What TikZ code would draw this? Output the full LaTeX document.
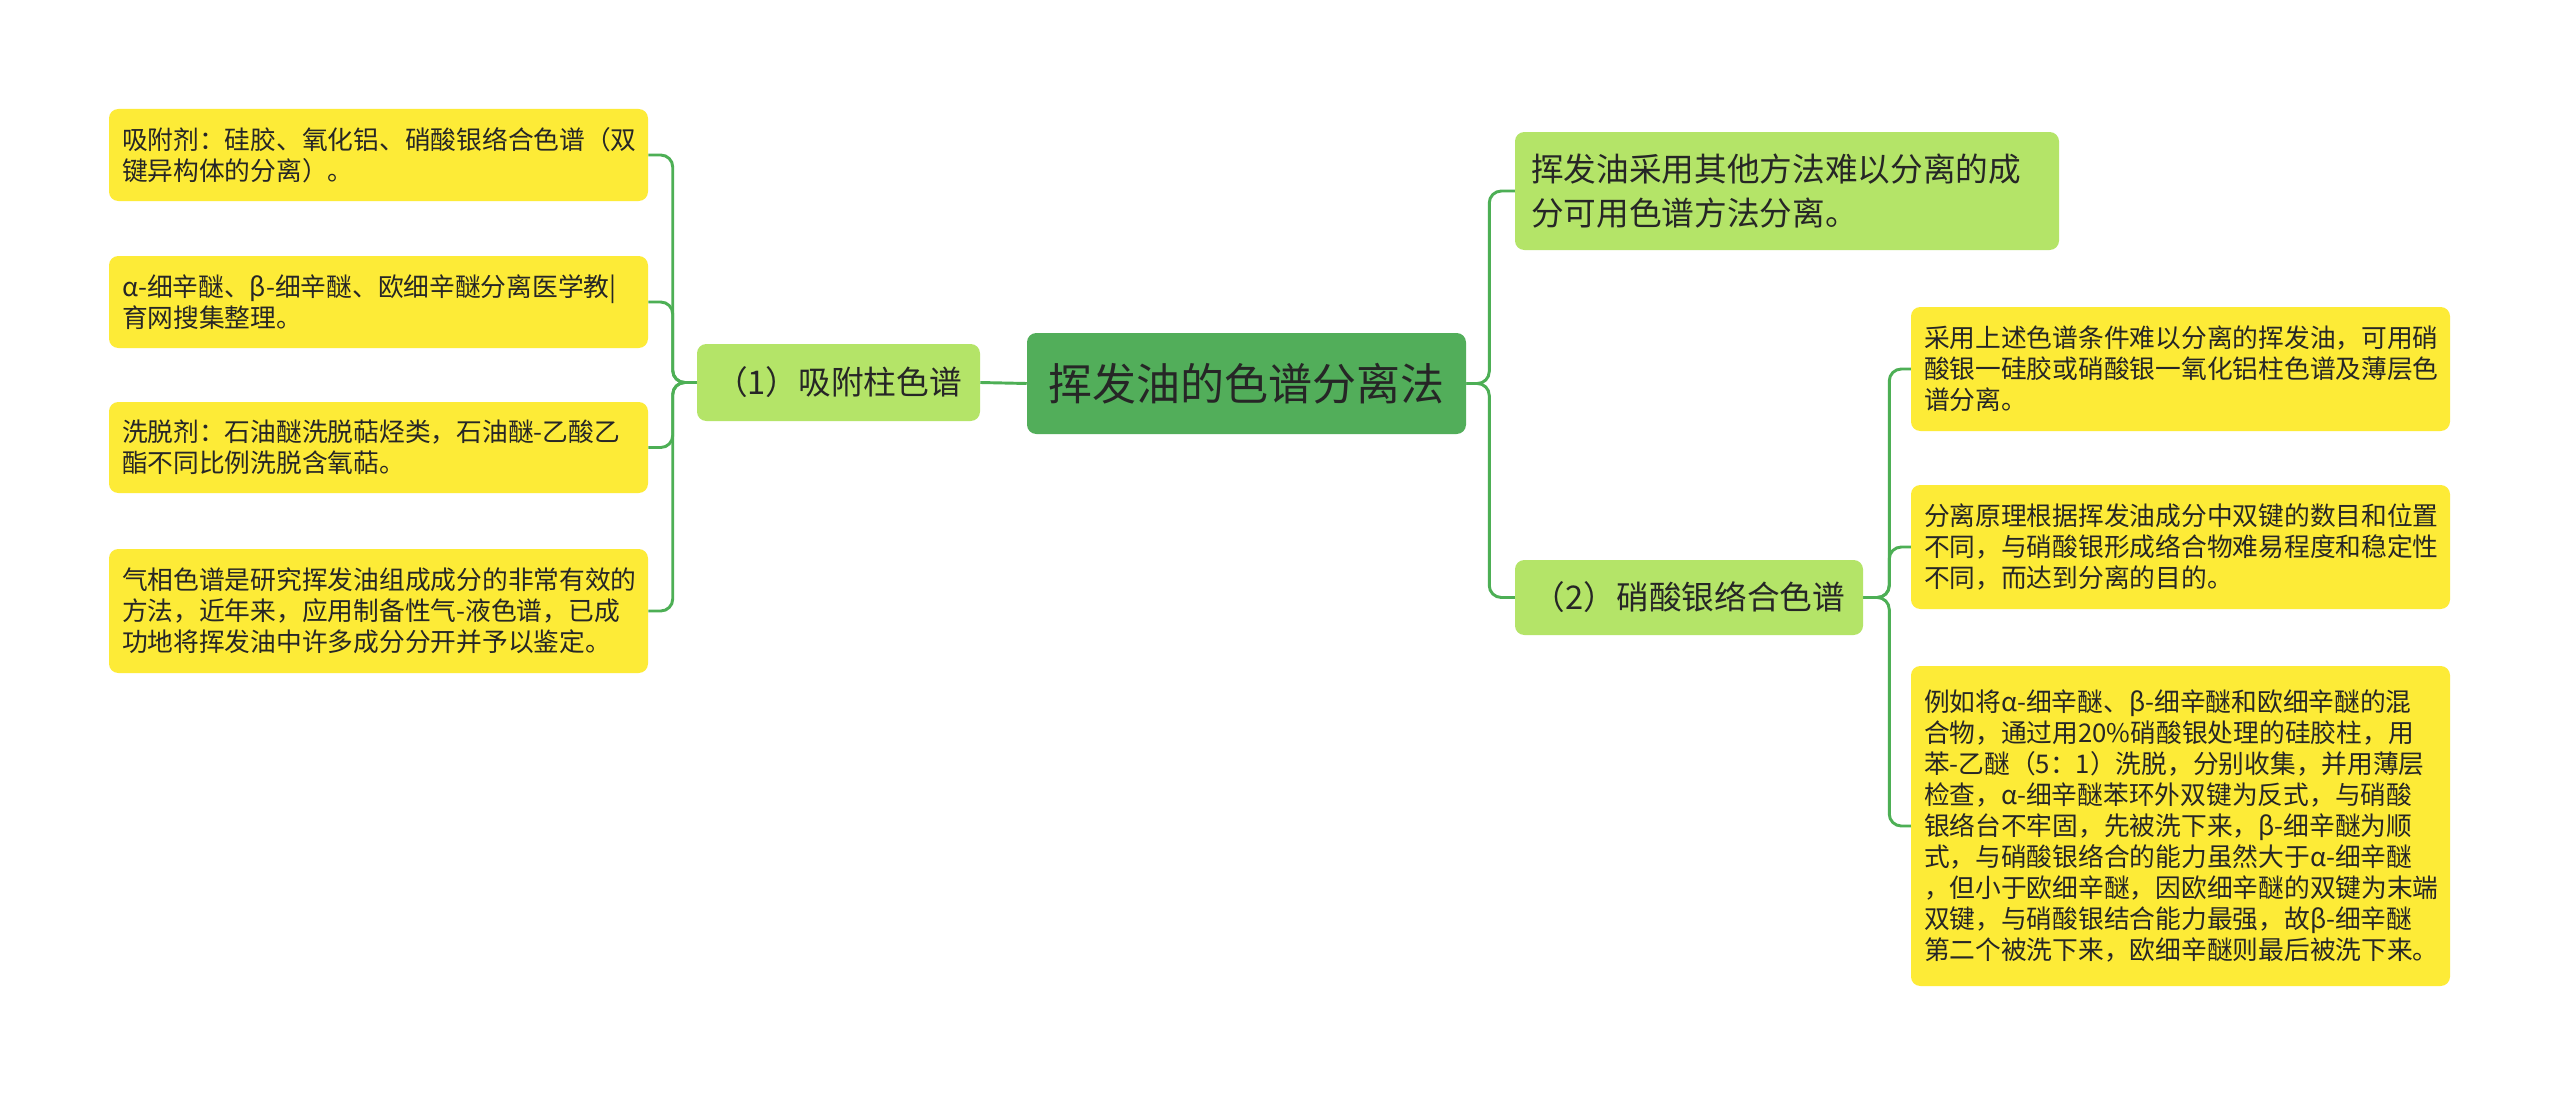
\documentclass[tikz,border=0pt]{standalone}
\usepackage{fontspec}
\setmainfont{Noto Sans CJK SC}
\definecolor{rootgreen}{HTML}{52AE5A}
\definecolor{midgreen}{HTML}{B4E468}
\definecolor{leafyellow}{HTML}{FDEB37}
\definecolor{conngreen}{HTML}{4DAF55}
\definecolor{txt}{HTML}{262626}
\begin{document}
\begin{tikzpicture}[x=0.75pt,y=-0.75pt,
  rootbox/.style={fill=rootgreen, rounded corners=7pt, inner sep=0pt, text=txt,
    minimum width=329.25pt, minimum height=75.75pt, font=\fontsize{33}{40}\selectfont},
  midbox/.style={fill=midgreen, rounded corners=7pt, inner sep=0pt, text=txt,
    font=\fontsize{24.5}{33}\selectfont},
  topbox/.style={fill=midgreen, rounded corners=7pt, inner xsep=12pt, inner ysep=0pt, text=txt,
    align=left, text width=384pt, minimum height=88.5pt, font=\fontsize{24.5}{33}\selectfont},
  leafbox/.style={fill=leafyellow, rounded corners=7pt, inner xsep=9.75pt, inner ysep=0pt, text=txt,
    align=left, text width=384.75pt, font=\fontsize{19.3}{23.3}\selectfont},
  conn/.style={draw=conngreen, line width=2.2pt, rounded corners=9pt}
]
\fill[white] (0,0) rectangle (2560,1099);
\useasboundingbox (0,0) rectangle (2560,1099);

\node[rootbox] (root) at (1246.5,383.5) {挥发油的色谱分离法};

\node[midbox, minimum width=212.25pt, minimum height=57.75pt] (m1) at (838.5,382.5) {（1）吸附柱色谱};
\node[midbox, minimum width=261pt, minimum height=56.25pt] (m2) at (1689,597.5) {（2）硝酸银络合色谱};
\node[topbox] (t) at (1787,191) {挥发油采用其他方法难以分离的成\\分可用色谱方法分离。};

\node[leafbox, minimum height=69pt] (l1) at (378.5,155) {吸附剂：硅胶、氧化铝、硝酸银络合色谱（双\\键异构体的分离）。};
\node[leafbox, minimum height=69pt] (l2) at (378.5,302) {α-细辛醚、β-细辛醚、欧细辛醚分离医学教|\\育网搜集整理。};
\node[leafbox, minimum height=68.25pt] (l3) at (378.5,447.5) {洗脱剂：石油醚洗脱萜烃类，石油醚-乙酸乙\\酯不同比例洗脱含氧萜。};
\node[leafbox, minimum height=93pt] (l4) at (378.5,611) {气相色谱是研究挥发油组成成分的非常有效的\\方法，近年来，应用制备性气-液色谱，已成\\功地将挥发油中许多成分分开并予以鉴定。};

\node[leafbox, minimum height=93pt] (r1) at (2180.5,369) {采用上述色谱条件难以分离的挥发油，可用硝\\酸银一硅胶或硝酸银一氧化铝柱色谱及薄层色\\谱分离。};
\node[leafbox, minimum height=93pt] (r2) at (2180.5,547) {分离原理根据挥发油成分中双键的数目和位置\\不同，与硝酸银形成络合物难易程度和稳定性\\不同，而达到分离的目的。};
\node[leafbox, minimum height=240pt] (r3) at (2180.5,826) {例如将α-细辛醚、β-细辛醚和欧细辛醚的混\\合物，通过用20\%硝酸银处理的硅胶柱，用\\苯-乙醚（5：1）洗脱，分别收集，并用薄层\\检查，α-细辛醚苯环外双键为反式，与硝酸\\银络台不牢固，先被洗下来，β-细辛醚为顺\\式，与硝酸银络合的能力虽然大于α-细辛醚\\，但小于欧细辛醚，因欧细辛醚的双键为末端\\双键，与硝酸银结合能力最强，故β-细辛醚\\第二个被洗下来，欧细辛醚则最后被洗下来。};

\draw[conn] (root.west) -- (m1.east);
\foreach \n in {l1,l2,l3,l4} {
  \draw[conn] (m1.west) -- ++(-24,0) |- (\n.east);
}
\draw[conn] (root.east) -- ++(23,0) |- (t.west);
\draw[conn] (root.east) -- ++(23,0) |- (m2.west);
\foreach \n in {r1,r2,r3} {
  \draw[conn] (m2.east) -- ++(26,0) |- (\n.west);
}
\end{tikzpicture}
\end{document}
